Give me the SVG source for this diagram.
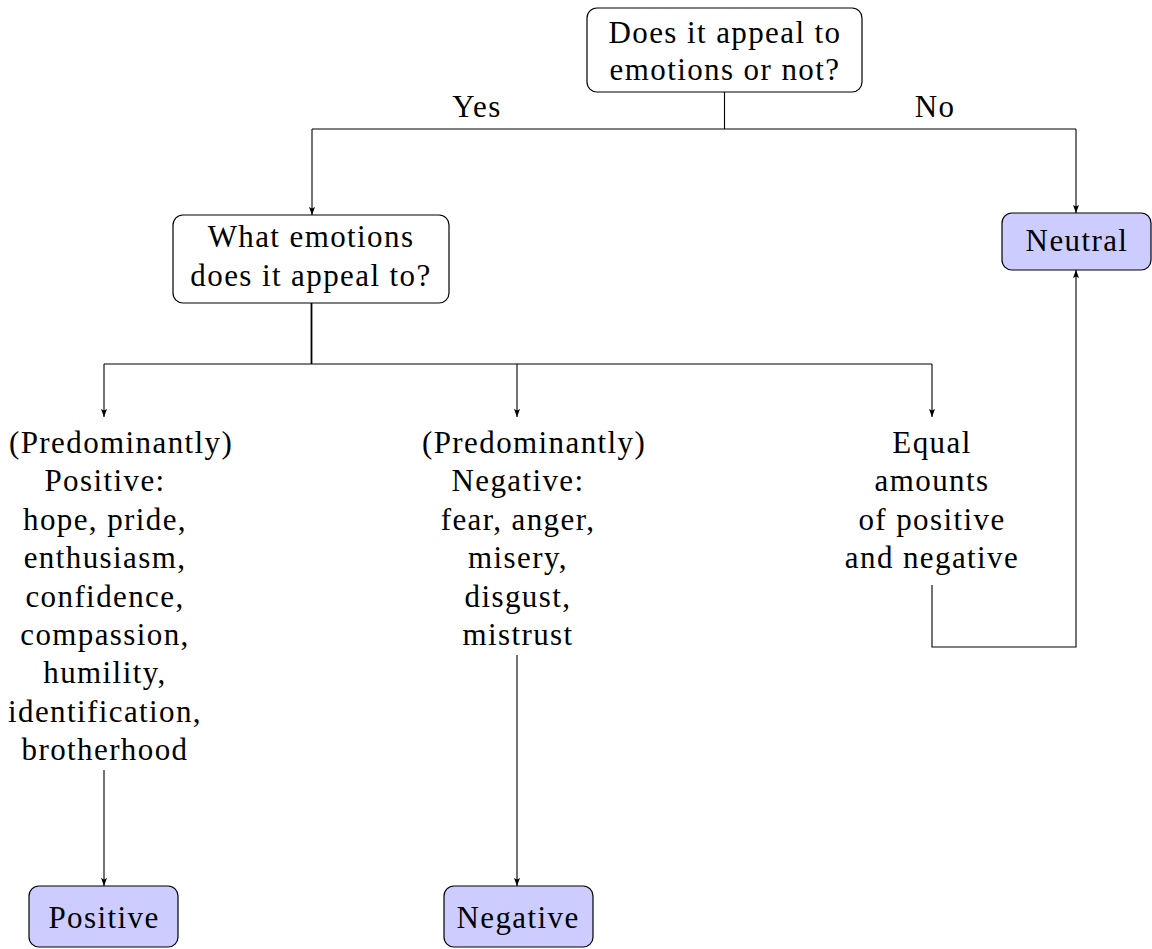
<svg xmlns="http://www.w3.org/2000/svg" width="1152" height="949" viewBox="0 0 1152 949">
  <style>
    text { font-family: "Liberation Serif", "Times New Roman", serif; font-size: 31px; fill: #000; letter-spacing: 1.4px; }
    .mid { text-anchor: middle; }
    .start { text-anchor: start; }
    .q { fill: #fff; stroke: #000; stroke-width: 1.2; }
    .leaf { fill: #ccccff; stroke: #000; stroke-width: 1.2; }
    .wire { fill: none; stroke: #000; stroke-width: 1.1; }
  </style>
  <defs>
    <marker id="arrow" viewBox="0 0 8 6" refX="8" refY="3" markerWidth="8" markerHeight="6" markerUnits="userSpaceOnUse" orient="auto">
      <path d="M0,0 L8,3 L0,6 L1.6,3 Z" fill="#000"/>
    </marker>
  </defs>

  <!-- connectors -->
  <g id="connectors">
    <path class="wire" d="M724.5,92 V129"/>
    <path class="wire" d="M312,129 H1076"/>
    <path class="wire" d="M312,129 V215" marker-end="url(#arrow)"/>
    <path class="wire" d="M1076,129 V213" marker-end="url(#arrow)"/>
    <path class="wire" d="M311.5,303 V364" style="stroke-width:1.8"/>
    <path class="wire" d="M104,364 H932"/>
    <path class="wire" d="M104,364 V417" marker-end="url(#arrow)"/>
    <path class="wire" d="M517,364 V417" marker-end="url(#arrow)"/>
    <path class="wire" d="M932,364 V417" marker-end="url(#arrow)"/>
    <path class="wire" d="M104,770 V886" marker-end="url(#arrow)"/>
    <path class="wire" d="M517,655 V886" marker-end="url(#arrow)"/>
    <path class="wire" d="M932,585 V647 H1076 V270" marker-end="url(#arrow)"/>
    <text class="mid" x="477" y="117">Yes</text>
    <text class="mid" x="935" y="117">No</text>
  </g>

  <!-- question nodes -->
  <g id="q-appeal">
    <rect class="q" x="587" y="8" width="275" height="84" rx="10"/>
    <text class="mid" x="725" y="43">Does it appeal to</text>
    <text class="mid" x="725" y="80">emotions or not?</text>
  </g>
  <g id="q-which">
    <rect class="q" x="173" y="215" width="276" height="88" rx="10"/>
    <text class="mid" x="311" y="247">What emotions</text>
    <text class="mid" x="311" y="286">does it appeal to?</text>
  </g>

  <!-- branch descriptions -->
  <g id="branch-positive">
    <text class="start" x="9" y="453">(Predominantly)</text>
    <text class="mid" x="105" y="491">Positive:</text>
    <text class="mid" x="105" y="530">hope, pride,</text>
    <text class="mid" x="105" y="568">enthusiasm,</text>
    <text class="mid" x="105" y="607">confidence,</text>
    <text class="mid" x="105" y="645">compassion,</text>
    <text class="mid" x="105" y="683">humility,</text>
    <text class="mid" x="105" y="722">identification,</text>
    <text class="mid" x="105" y="760">brotherhood</text>
  </g>
  <g id="branch-negative">
    <text class="start" x="422" y="453">(Predominantly)</text>
    <text class="mid" x="518" y="491">Negative:</text>
    <text class="mid" x="518" y="530">fear, anger,</text>
    <text class="mid" x="518" y="568">misery,</text>
    <text class="mid" x="518" y="607">disgust,</text>
    <text class="mid" x="518" y="645">mistrust</text>
  </g>
  <g id="branch-equal">
    <text class="mid" x="932" y="453">Equal</text>
    <text class="mid" x="932" y="491">amounts</text>
    <text class="mid" x="932" y="530">of positive</text>
    <text class="mid" x="932" y="568">and negative</text>
  </g>

  <!-- outcome nodes -->
  <g id="out-neutral">
    <rect class="leaf" x="1002" y="213" width="149" height="57" rx="10"/>
    <text class="mid" x="1077" y="251">Neutral</text>
  </g>
  <g id="out-positive">
    <rect class="leaf" x="29" y="886" width="149" height="61" rx="10"/>
    <text class="mid" x="104" y="928">Positive</text>
  </g>
  <g id="out-negative">
    <rect class="leaf" x="444" y="886" width="149" height="61" rx="10"/>
    <text class="mid" x="518" y="928">Negative</text>
  </g>
</svg>
